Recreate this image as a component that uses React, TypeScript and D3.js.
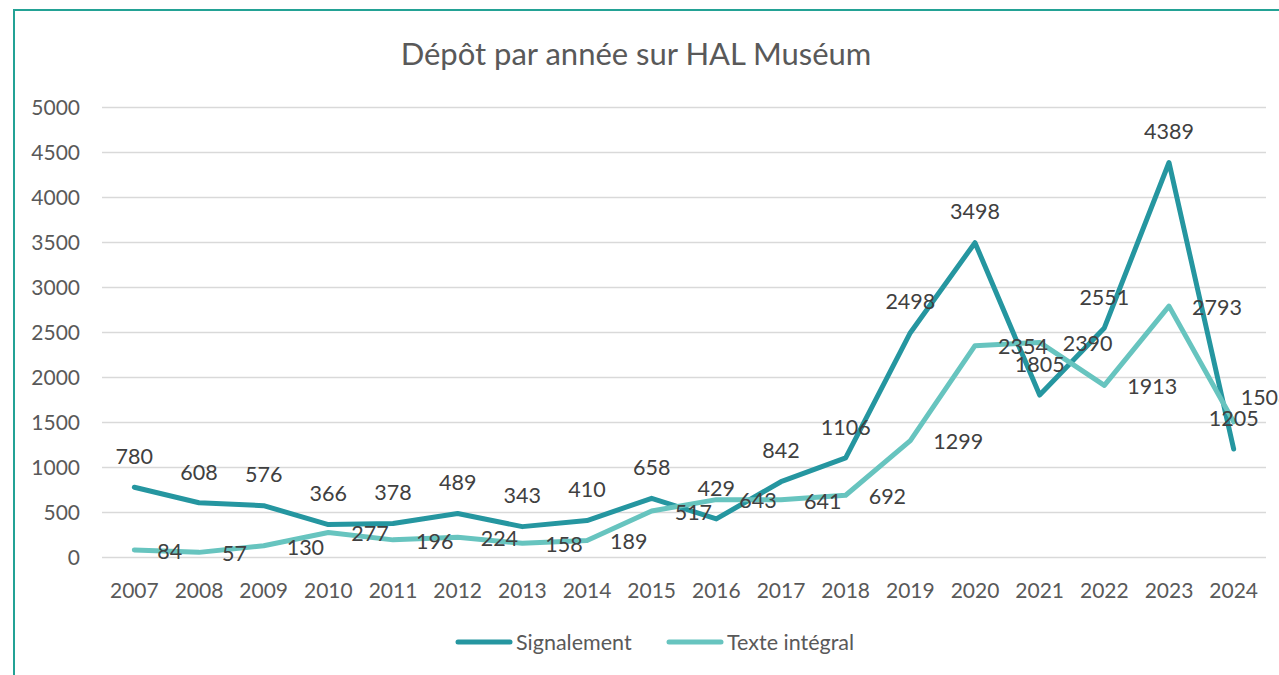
import React from "react";
import * as d3 from "d3";

const years = ["2007","2008","2009","2010","2011","2012","2013","2014","2015","2016","2017","2018","2019","2020","2021","2022","2023","2024"];
const signalement = [780,608,576,366,378,489,343,410,658,429,842,1106,2498,3498,1805,2551,4389,1205];
const texteIntegral = [84,57,130,277,196,224,158,189,517,643,641,692,1299,2354,2390,1913,2793,1508];
const yTicks = [0,500,1000,1500,2000,2500,3000,3500,4000,4500,5000];
const seriesNames = ["Signalement","Texte intégral"];

const W = 1279, H = 675;
const FONT = "Lato, 'Open Sans', sans-serif";
const C1 = "#2596a0";
const C2 = "#67c4bf";

export default function App() {
  const x = d3.scalePoint<string>().domain(years).range([102, 1266]).padding(0.5);
  const y = d3.scaleLinear().domain([0, 5000]).range([557.5, 107.5]);
  const line = d3.line<number>().x((_, i) => x(years[i]) as number).y(d => y(d));

  return (
    <svg width={W} height={H} style={{ position: "absolute", left: 0, top: 0, background: "#fff" }} fontFamily={FONT}>
      <rect x={0} y={0} width={W} height={H} fill="#fff" />
      <rect x={14} y={10} width={W + 20} height={H + 20} fill="none" stroke="#23a295" strokeWidth={2} />
      <text x={636} y={65} textAnchor="middle" fontSize={31} fill="#595959">Dépôt par année sur HAL Muséum</text>
      {yTicks.map(t => (
        <g key={t}>
          <line x1={102} x2={1266} y1={y(t)} y2={y(t)} stroke="#d9d9d9" strokeWidth={1.5} />
          <text x={80} y={y(t)} dy="0.36em" textAnchor="end" fontSize={21} fill="#595959">{t}</text>
        </g>
      ))}
      {years.map(yr => (
        <text key={yr} x={x(yr)} y={597.5} textAnchor="middle" fontSize={21} fill="#595959">{yr}</text>
      ))}
      <path d={line(signalement) as string} fill="none" stroke={C1} strokeWidth={5} strokeLinejoin="round" strokeLinecap="round" />
      <path d={line(texteIntegral) as string} fill="none" stroke={C2} strokeWidth={5} strokeLinejoin="round" strokeLinecap="round" />
      {signalement.map((v, i) => (
        <text key={"s" + i} x={x(years[i])} y={y(v) - 31} dy="0.36em" textAnchor="middle" fontSize={21.5} fill="#404040">{v}</text>
      ))}
      {texteIntegral.map((v, i) => {
        const last = i === years.length - 1;
        const px = (x(years[i]) as number) + (last ? 7 : 23);
        const py = y(v) + (last ? -25 : 1);
        return <text key={"t" + i} x={px} y={py} dy="0.36em" textAnchor="start" fontSize={21.5} fill="#404040">{v}</text>;
      })}
      <g>
        <line x1={458} x2={510} y1={642} y2={642} stroke={C1} strokeWidth={5} strokeLinecap="round" />
        <text x={516} y={642} dy="0.36em" fontSize={21.5} fill="#595959">{seriesNames[0]}</text>
        <line x1={669} x2={721} y1={642} y2={642} stroke={C2} strokeWidth={5} strokeLinecap="round" />
        <text x={727} y={642} dy="0.36em" fontSize={21.5} fill="#595959">{seriesNames[1]}</text>
      </g>
    </svg>
  );
}
